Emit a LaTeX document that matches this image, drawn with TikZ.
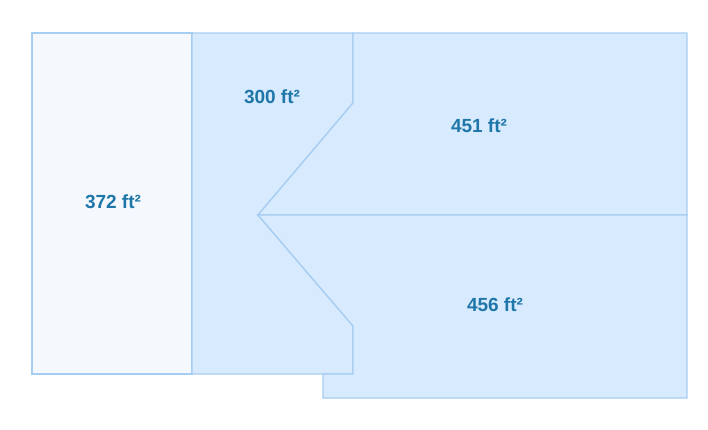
\documentclass[tikz,border=0pt]{standalone}
\usepackage{fontspec}
\setmainfont{Liberation Sans}
\usetikzlibrary{calc}

\definecolor{roomfill}{HTML}{D8EAFD}
\definecolor{hallfill}{HTML}{F5F9FE}
\definecolor{roomline}{HTML}{A6CDF2}
\definecolor{arealabel}{HTML}{1F77A9}

\begin{document}
\begin{tikzpicture}[x=1pt, y=-1pt, line width=1.3pt,
  area/.style={font=\fontsize{19}{22}\selectfont\bfseries, text=arealabel}]

\useasboundingbox (0, 0) rectangle (708, 429);

\filldraw[fill=hallfill, draw=roomline] (32, 33) rectangle (192, 374);
\filldraw[fill=roomfill, draw=roomline] (192, 33) -- (353, 33) -- (353, 103) -- (258, 215) -- (353, 326) -- (353, 374) -- (192, 374) -- cycle;
\filldraw[fill=roomfill, draw=roomline] (353, 33) -- (687, 33) -- (687, 215) -- (258, 215) -- (353, 103) -- cycle;
\filldraw[fill=roomfill, draw=roomline] (258, 215) -- (687, 215) -- (687, 398) -- (323, 398) -- (323, 374) -- (353, 374) -- (353, 326) -- cycle;

\node[area] (hall) at (113, 202) {372 ft²};
\node[area] (den) at (272, 97) {300 ft²};
\node[area] (north) at (479, 126) {451 ft²};
\node[area] (south) at (495, 305) {456 ft²};

\end{tikzpicture}
\end{document}
